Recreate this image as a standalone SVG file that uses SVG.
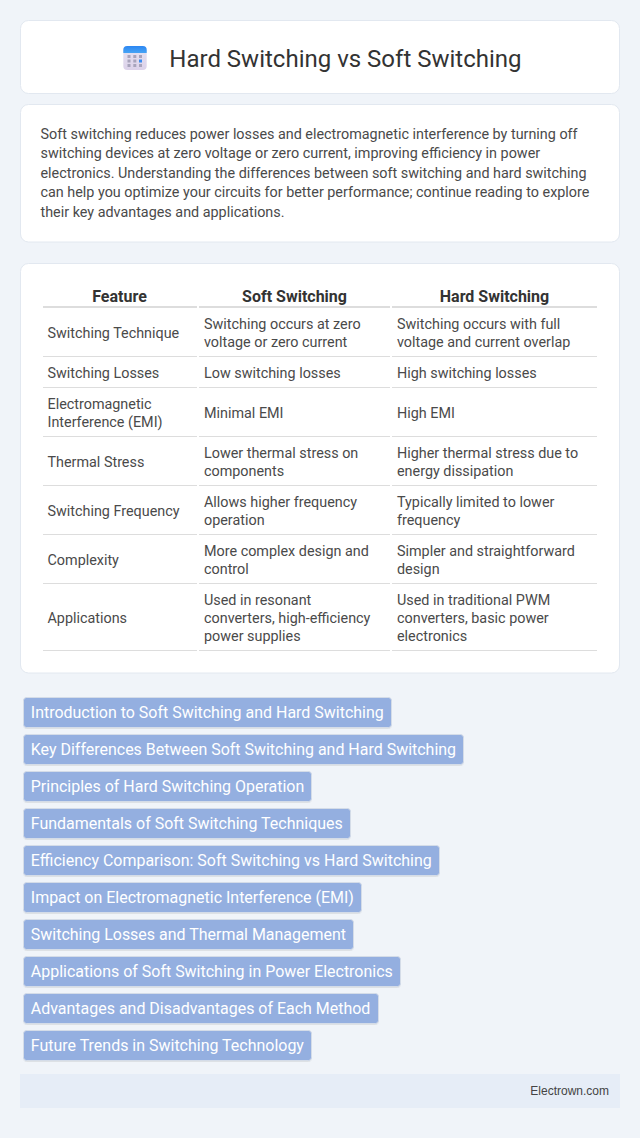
<svg xmlns="http://www.w3.org/2000/svg" width="640" height="1138" viewBox="0 0 640 1138">
<defs>
<linearGradient id="iconTop" x1="0" y1="0" x2="0" y2="1"><stop offset="0" stop-color="#2c86f2"/><stop offset="1" stop-color="#46a4f5"/></linearGradient>
<linearGradient id="iconBody" x1="0" y1="0" x2="0" y2="1"><stop offset="0" stop-color="#e6e4f2"/><stop offset="1" stop-color="#dcd2ea"/></linearGradient>
<filter id="tagShadow" x="-2%" y="-10%" width="104%" height="125%"><feDropShadow dx="0" dy="1" stdDeviation="0.5" flood-color="#000" flood-opacity="0.08"/></filter>
</defs>
<style>
text{font-family:Roboto,"Liberation Sans",sans-serif}
.card{fill:#fff;stroke:#e2e8f0;stroke-width:1}
.t{font-size:24px;fill:#333}
.b{font-size:14.37px;fill:#4a4a4a}
.h{font-size:16px;font-weight:700;fill:#333;text-anchor:middle}
.c{font-size:14.37px;fill:#4a4a4a}
.hl{stroke:#ddd;stroke-width:2;fill:none}
.l{stroke:#ddd;stroke-width:1;fill:none}
.tag{fill:#94afe0;stroke:#d4dce8;stroke-width:1;filter:url(#tagShadow)}
.tt{font-size:15.98px;fill:#fff}
</style>
<rect width="640" height="1138" fill="#f0f4f9"/>
<g id="header">
<rect class="card" x="20.500" y="20.500" width="599" height="73" rx="8"/>
<g id="icon">
<rect x="123.300" y="46" width="23.400" height="24" rx="4" fill="url(#iconBody)"/>
<path d="M123.300 53V50a4 4 0 0 1 4-4h15.400a4 4 0 0 1 4 4v3z" fill="url(#iconTop)"/>
<g fill="#a8a4bc"><rect x="127.500" y="55" width="3" height="3"/><rect x="133.300" y="55" width="3" height="3"/><rect x="139" y="55" width="3" height="3"/><rect x="127.500" y="59.500" width="3" height="3"/><rect x="133.300" y="59.500" width="3" height="3"/><rect x="127.500" y="64" width="3" height="3"/><rect x="133.300" y="64" width="3" height="3"/><rect x="139" y="64" width="3" height="3"/></g>
<rect x="139" y="59.500" width="3" height="3" fill="#3b8cf0"/>
</g>
<text class="t" x="169.300" y="67">Hard Switching vs Soft Switching</text>
</g>
<g id="intro">
<rect class="card" x="20.500" y="104.500" width="599" height="137.500" rx="8"/>
<text class="b" x="40.500" y="139">Soft switching reduces power losses and electromagnetic interference by turning off</text>
<text class="b" x="40.500" y="158">switching devices at zero voltage or zero current, improving efficiency in power</text>
<text class="b" x="40.500" y="178">electronics. Understanding the differences between soft switching and hard switching</text>
<text class="b" x="40.500" y="197">can help you optimize your circuits for better performance; continue reading to explore</text>
<text class="b" x="40.500" y="217">their key advantages and applications.</text>
</g>
<g id="table">
<rect class="card" x="20.500" y="263.500" width="599" height="409.500" rx="8"/>
<text class="h" x="119.500" y="302">Feature</text><text class="h" x="294.500" y="302">Soft Switching</text><text class="h" x="494.500" y="302">Hard Switching</text>
<path class="hl" d="M43 307h154M199 307h191M392 307h205"/>
<path class="l" d="M43 356.500h154M199 356.500h191M392 356.500h205M43 387.500h154M199 387.500h191M392 387.500h205M43 436.500h154M199 436.500h191M392 436.500h205M43 485.500h154M199 485.500h191M392 485.500h205M43 534.500h154M199 534.500h191M392 534.500h205M43 583.500h154M199 583.500h191M392 583.500h205M43 650.500h154M199 650.500h191M392 650.500h205"/>
<text class="c" x="47.500" y="338">Switching Technique</text>
<text class="c" x="204" y="329">Switching occurs at zero</text><text class="c" x="204" y="347">voltage or zero current</text>
<text class="c" x="397" y="329">Switching occurs with full</text><text class="c" x="397" y="347">voltage and current overlap</text>
<text class="c" x="47.500" y="378">Switching Losses</text><text class="c" x="204" y="378">Low switching losses</text><text class="c" x="397" y="378">High switching losses</text>
<text class="c" x="47.500" y="409">Electromagnetic</text><text class="c" x="47.500" y="427">Interference (EMI)</text><text class="c" x="204" y="418">Minimal EMI</text><text class="c" x="397" y="418">High EMI</text>
<text class="c" x="47.500" y="467">Thermal Stress</text>
<text class="c" x="204" y="458">Lower thermal stress on</text><text class="c" x="204" y="476">components</text>
<text class="c" x="397" y="458">Higher thermal stress due to</text><text class="c" x="397" y="476">energy dissipation</text>
<text class="c" x="47.500" y="516">Switching Frequency</text>
<text class="c" x="204" y="507">Allows higher frequency</text><text class="c" x="204" y="525">operation</text>
<text class="c" x="397" y="507">Typically limited to lower</text><text class="c" x="397" y="525">frequency</text>
<text class="c" x="47.500" y="565">Complexity</text>
<text class="c" x="204" y="556">More complex design and</text><text class="c" x="204" y="574">control</text>
<text class="c" x="397" y="556">Simpler and straightforward</text><text class="c" x="397" y="574">design</text>
<text class="c" x="47.500" y="623">Applications</text>
<text class="c" x="204" y="605">Used in resonant</text><text class="c" x="204" y="623">converters, high-efficiency</text><text class="c" x="204" y="641">power supplies</text>
<text class="c" x="397" y="605">Used in traditional PWM</text><text class="c" x="397" y="623">converters, basic power</text><text class="c" x="397" y="641">electronics</text>
</g>
<g id="toc-1"><rect class="tag" x="23.500" y="697.500" width="368" height="30" rx="3"/><text class="tt" x="30.800" y="718">Introduction to Soft Switching and Hard Switching</text></g>
<g id="toc-2"><rect class="tag" x="23.500" y="734.500" width="440" height="30" rx="3"/><text class="tt" x="30.800" y="755">Key Differences Between Soft Switching and Hard Switching</text></g>
<g id="toc-3"><rect class="tag" x="23.500" y="771.500" width="288" height="30" rx="3"/><text class="tt" x="30.800" y="792">Principles of Hard Switching Operation</text></g>
<g id="toc-4"><rect class="tag" x="23.500" y="808.500" width="327" height="30" rx="3"/><text class="tt" x="30.800" y="829">Fundamentals of Soft Switching Techniques</text></g>
<g id="toc-5"><rect class="tag" x="23.500" y="845.500" width="416" height="30" rx="3"/><text class="tt" x="30.800" y="866">Efficiency Comparison: Soft Switching vs Hard Switching</text></g>
<g id="toc-6"><rect class="tag" x="23.500" y="882.500" width="338" height="30" rx="3"/><text class="tt" x="30.800" y="903">Impact on Electromagnetic Interference (EMI)</text></g>
<g id="toc-7"><rect class="tag" x="23.500" y="919.500" width="330" height="30" rx="3"/><text class="tt" x="30.800" y="940">Switching Losses and Thermal Management</text></g>
<g id="toc-8"><rect class="tag" x="23.500" y="956.500" width="377" height="30" rx="3"/><text class="tt" x="30.800" y="977">Applications of Soft Switching in Power Electronics</text></g>
<g id="toc-9"><rect class="tag" x="23.500" y="993.500" width="355" height="30" rx="3"/><text class="tt" x="30.800" y="1014">Advantages and Disadvantages of Each Method</text></g>
<g id="toc-10"><rect class="tag" x="23.500" y="1030.500" width="288" height="30" rx="3"/><text class="tt" x="30.800" y="1051">Future Trends in Switching Technology</text></g>
<g id="footer"><rect x="20" y="1074" width="600" height="34" fill="#e6edf7"/><text x="609" y="1095" text-anchor="end" font-size="12" fill="#444" style="font-family:'Liberation Sans',sans-serif">Electrown.com</text></g>
</svg>
